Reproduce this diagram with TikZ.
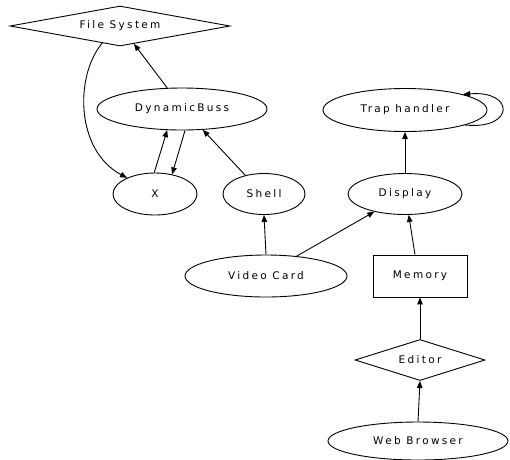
\documentclass[tikz,border=0pt]{standalone}
\usepackage{fontspec}
\setmainfont{DejaVu Sans}[LetterSpace=22]
\usetikzlibrary{shapes.geometric,arrows.meta}
\begin{document}
\begin{tikzpicture}[x=10pt,y=-10pt,line width=0.9pt,
  >={Triangle[length=7pt,width=5.5pt]},
  every node/.style={draw,inner sep=0pt,font=\fontsize{10.5}{12}\selectfont},
  oval/.style={ellipse},
  rhomb/.style={diamond},
  box/.style={rectangle}]
\useasboundingbox (0,0) rectangle (51,45.9);
\node[rhomb,shape aspect=5.5,minimum width=220pt,minimum height=40pt] (fs) at (12.0,2.6) {File System};
\node[oval,minimum width=170pt,minimum height=42pt] (bus) at (18.2,10.9) {DynamicBuss};
\node[oval,minimum width=84pt,minimum height=42pt] (x) at (15.5,19.4) {X};
\node[oval,minimum width=82pt,minimum height=41pt] (shell) at (26.4,19.4) {Shell};
\node[oval,minimum width=164pt,minimum height=43pt] (trap) at (40.5,11.0) {Trap handler};
\node[oval,minimum width=114pt,minimum height=41pt] (disp) at (40.5,19.4) {Display};
\node[oval,minimum width=162pt,minimum height=42pt] (card) at (26.6,27.6) {Video Card};
\node[box,minimum width=94pt,minimum height=42pt] (mem) at (42.0,27.6) {Memory};
\node[rhomb,shape aspect=3.2,minimum width=130pt,minimum height=41pt] (edit) at (42.0,36.0) {Editor};
\node[oval,minimum width=180pt,minimum height=38pt] (web) at (41.8,44.1) {Web Browser};
\draw[->] (bus.125) -- (fs.-52);
\draw[->] (fs.224) .. controls (7.5,7.5) and (7.5,15.0) .. (x.150);
\draw[->] (x.92) -- (bus.235);
\draw[->] (bus.278) -- (x.49);
\draw[->] (shell.135) -- (bus.-45);
\draw[->] (card.north) -- (shell.south);
\draw[->] (card.33) -- (disp.210);
\draw[->] ([xshift=-5pt]mem.north) -- (disp.-80);
\draw[->] (disp.north) -- (trap.south);
\draw[->] (trap.-14) .. controls (51.5,13.0) and (51.5,9.0) .. (trap.15);
\draw[->] (edit.north) -- (mem.south);
\draw[->] (web.north) -- (edit.south);
\end{tikzpicture}
\end{document}
